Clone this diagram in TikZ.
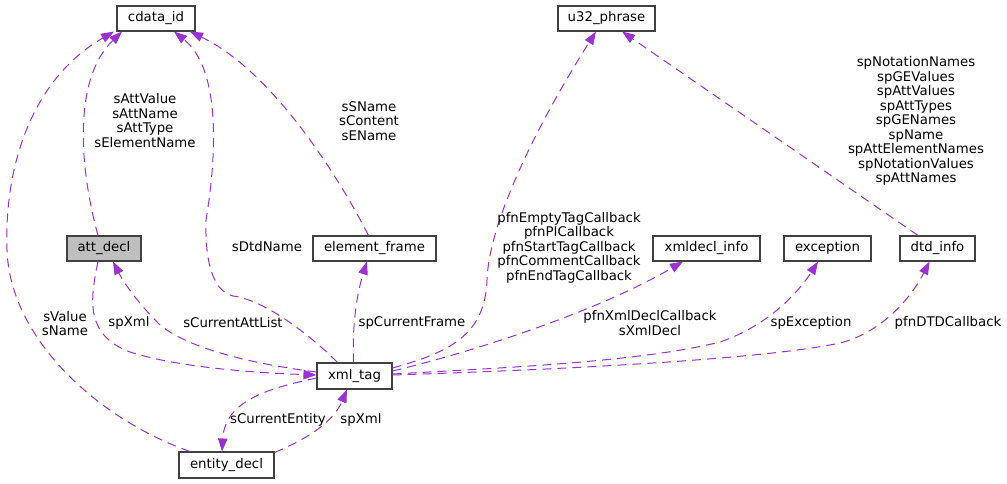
\documentclass[tikz,border=0pt]{standalone}
\usepackage{fontspec}
\setmainfont{DejaVu Sans}
\usetikzlibrary{arrows.meta}
\definecolor{edgec}{HTML}{9A32CD}
\definecolor{boxc}{HTML}{404040}
\definecolor{grayfill}{HTML}{BFBFBF}
\begin{document}
\begin{tikzpicture}[x=1pt,y=-1pt,
  every node/.style={font=\fontsize{13.3}{14.5}\selectfont},
  cls/.style={draw=boxc, line width=1.1pt, fill=white, minimum height=25pt, inner sep=0pt, text height=9.5pt, text depth=2.8pt},
  cur/.style={cls, fill=grayfill},
  rel/.style={draw=edgec, line width=1pt, dash pattern=on 9pt off 6pt, -{Triangle[length=13pt,width=9.5pt,fill=edgec]}},
  lbl/.style={align=center, inner sep=0pt}
]
\useasboundingbox (0,0) rectangle (1007,484);

% nodes
\node[cls, minimum width=78pt] (cdata) at (156,18.5) {cdata\_id};
\node[cls, minimum width=97pt] (u32) at (606.5,18.5) {u32\_phrase};
\node[cur, minimum width=74pt] (att) at (104,248.5) {att\_decl};
\node[cls, minimum width=123pt] (ef) at (374.5,248.5) {element\_frame};
\node[cls, minimum width=107pt] (xdi) at (706.5,248.5) {xmldecl\_info};
\node[cls, minimum width=87pt] (exc) at (827.5,248.5) {exception};
\node[cls, minimum width=75pt] (dtd) at (937.5,248.5) {dtd\_info};
\node[cls, minimum width=75pt, minimum height=26pt] (xml) at (354.5,376) {xml\_tag};
\node[cls, minimum width=95pt, minimum height=26pt] (ent) at (226.5,465) {entity\_decl};

% edges
\draw[rel] ([xshift=-6pt]att.north) .. controls (80,170) and (72,80) .. ([xshift=-34pt]cdata.south);
\draw[rel] ([xshift=-36.5pt]ent.north) .. controls (100,420) and (10,340) .. (7,250) .. controls (4,170) and (30,80) .. ([xshift=-42pt]cdata.south);
\draw[rel] ([xshift=-17pt]xml.north) .. controls (310,335) and (265,300) .. (233,296) .. controls (212,291) and (205,260) .. (206,220) .. controls (216,160) and (222,70) .. ([xshift=18pt]cdata.south);
\draw[rel] ([xshift=-6pt]ef.north) .. controls (335,170) and (270,70) .. ([xshift=34pt]cdata.south);
\draw[rel] ([xshift=-1pt]xml.north) .. controls (352,320) and (358,290) .. ([xshift=-7.5pt]ef.south);
\draw[rel] ([xshift=-6pt]att.south) .. controls (90,300) and (85,335) .. (130,352) .. controls (180,368) and (260,373) .. ([yshift=1pt]xml.west);
\draw[rel] ([yshift=4pt]xml.west) .. controls (260,365) and (190,350) .. (160,325) .. controls (140,305) and (125,285) .. ([xshift=9pt]att.south);
\draw[rel] ([xshift=48pt,yshift=-1pt]ent.north) .. controls (300,442) and (332,425) .. ([xshift=-7.5pt]xml.south);
\draw[rel] ([yshift=-2pt]xml.west) .. controls (270,388) and (225,400) .. ([xshift=-4.5pt]ent.north);
\draw[rel] ([yshift=8pt]xml.east) .. controls (450,352) and (485,335) .. (487,280) .. controls (489,220) and (540,120) .. ([xshift=-10.5pt]u32.south);
\draw[rel] ([yshift=5pt]xml.east) .. controls (480,350) and (600,310) .. ([xshift=-23.5pt]xdi.south);
\draw[rel] ([yshift=2pt]xml.east) .. controls (500,368) and (640,362) .. (720,342) .. controls (770,325) and (800,290) .. ([xshift=-9.5pt]exc.south);
\draw[rel] ([yshift=1pt]xml.east) .. controls (550,370) and (760,360) .. (840,343) .. controls (880,333) and (910,300) .. ([xshift=-8pt]dtd.south);
\draw[rel] ([xshift=-19.5pt]dtd.north) -- ([xshift=15.5pt]u32.south);

% labels
\node[lbl] (l1) at (145,120.5) {sAttValue\\sAttName\\sAttType\\sElementName};
\node[lbl] (l2) at (65,323.5) {sValue\\sName};
\node[lbl] (l3) at (129,323) {spXml};
\node[lbl] (l4) at (233,323) {sCurrentAttList};
\node[lbl] (l5) at (267,247) {sDtdName};
\node[lbl] (l6) at (369,121) {sSName\\sContent\\sEName};
\node[lbl] (l7) at (412,323) {spCurrentFrame};
\node[lbl] (l8) at (569,247.5) {pfnEmptyTagCallback\\pfnPICallback\\pfnStartTagCallback\\pfnCommentCallback\\pfnEndTagCallback};
\node[lbl] (l9) at (650,323) {pfnXmlDeclCallback\\sXmlDecl};
\node[lbl] (l10) at (811,323) {spException};
\node[lbl] (l11) at (948,323) {pfnDTDCallback};
\node[lbl] (l12) at (916,121) {spNotationNames\\spGEValues\\spAttValues\\spAttTypes\\spGENames\\spName\\spAttElementNames\\spNotationValues\\spAttNames};
\node[lbl] (l13) at (278,420) {sCurrentEntity};
\node[lbl] (l14) at (361,420) {spXml};
\end{tikzpicture}
\end{document}
